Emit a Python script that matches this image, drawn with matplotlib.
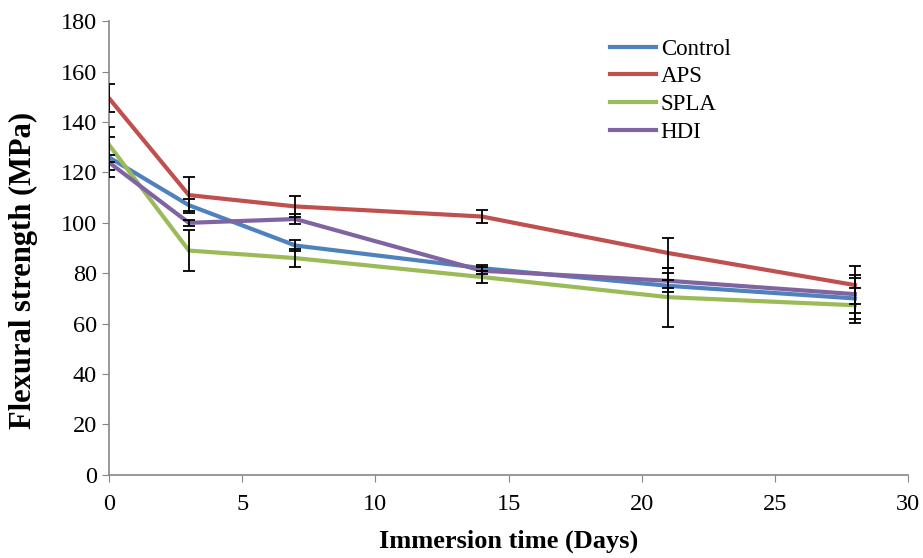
import numpy as np
import matplotlib.pyplot as plt

plt.rcParams['font.family'] = ['Liberation Serif', 'DejaVu Serif']

days = [0, 3, 7, 14, 21, 28]

control = [126, 107, 91, 82, 75, 70]
control_err = [8, 2.5, 2, 1.3, 2.5, 8]
aps = [149.5, 111, 106.5, 102.5, 88, 75.3]
aps_err = [5.5, 7, 4, 2.5, 6, 7.6]
spla = [131, 89, 86, 78.5, 70.5, 67.3]
spla_err = [7, 8, 3.5, 2.5, 11.7, 6.9]
hdi = [124, 100, 101.5, 81, 77, 71.7]
hdi_err = [3, 1.2, 2, 1.5, 3, 7.6]

series = [('Control', control, control_err, '#4F81BD'),
          ('APS', aps, aps_err, '#C0504D'),
          ('SPLA', spla, spla_err, '#9BBB59'),
          ('HDI', hdi, hdi_err, '#8064A2')]

fig = plt.figure(figsize=(9.23, 5.58), dpi=100)
ax = fig.add_axes([0.118, 0.149, 0.866, 0.813])

# lines first, then black error bars on top
for name, vals, err, col in series:
  ax.plot(days, vals, color=col, linewidth=3, label=name, zorder=2)
for name, vals, err, col in series:
  ax.errorbar(days, vals, yerr=err, fmt='none', ecolor='black',
              elinewidth=1.3, capsize=4, capthick=1.3, zorder=3)

ax.set_xlim(0, 30)
ax.set_ylim(0, 180)
ax.set_xticks(range(0, 31, 5))
ax.set_yticks(range(0, 181, 20))
ax.tick_params(labelsize=17.5, direction='out', length=5, color='#868686')
ax.tick_params(axis='x', pad=8.5)
for s in ['top', 'right']:
  ax.spines[s].set_visible(False)
for s in ['left', 'bottom']:
  ax.spines[s].set_color('#868686')
  ax.spines[s].set_linewidth(1.2)

ax.set_xlabel('Immersion time (Days)', fontsize=19, fontweight='bold', labelpad=11)
ax.set_ylabel('Flexural strength (MPa)', fontsize=22, fontweight='bold')
ax.yaxis.set_label_coords(-0.089, 0.45)

ax.legend(loc='upper left', bbox_to_anchor=(0.613, 0.987), frameon=False,
          fontsize=16.5, handlelength=2.0, handletextpad=0.2, labelspacing=0.29,
          borderpad=0)

fig.savefig('out.png', dpi=100)
